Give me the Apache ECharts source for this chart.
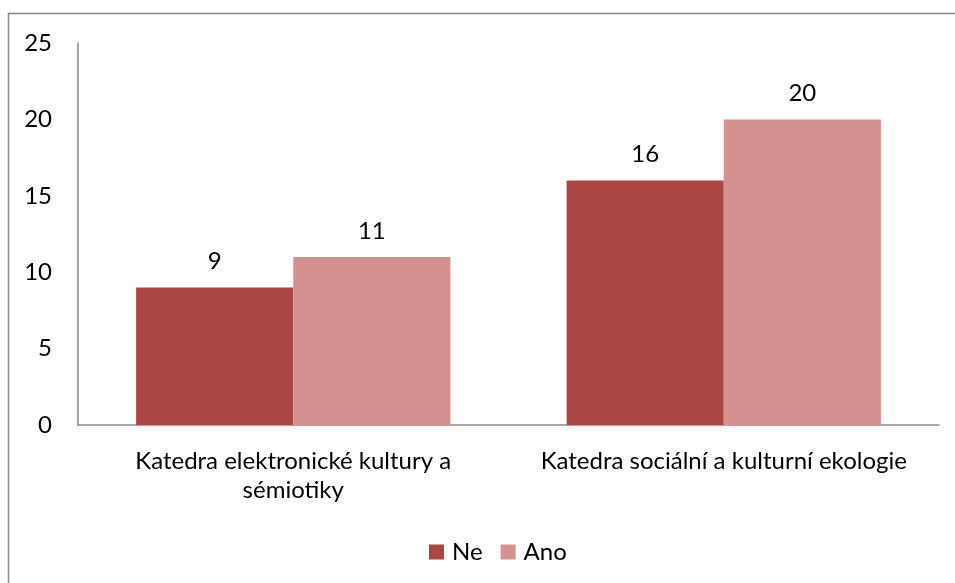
<!DOCTYPE html>
<html>
<head>
<meta charset="utf-8">
<script src="https://cdn.jsdelivr.net/npm/echarts@6/dist/echarts.min.js"></script>
<style>
  html, body { margin: 0; padding: 0; background: #fff; }
  #chart { width: 955px; height: 583px; }
</style>
</head>
<body>
<div id="chart"></div>
<script>
// Department names, shown as axis labels (first one wraps onto two lines)
const categories = ['Katedra elektronické kultury a\nsémiotiky', 'Katedra sociální a kulturní ekologie'];
const seriesNames = ['Ne', 'Ano'];
const valuesNe = [9, 16];
const valuesAno = [11, 20];
const yTicks = [0, 5, 10, 15, 20, 25];

const FONT = 'Lato';
const FS = 24;
const chart = echarts.init(document.getElementById('chart'));

chart.setOption({
  animation: false,
  textStyle: { fontFamily: FONT },
  graphic: [{
    type: 'rect',
    shape: { x: 8.5, y: 13.5, width: 1000, height: 1000 },
    style: { fill: 'none', stroke: '#868686', lineWidth: 1.5 },
    silent: true
  }],
  grid: { left: 78, right: 16, top: 43, bottom: 158 },
  legend: {
    data: seriesNames,
    top: 535,
    left: 424,
    itemWidth: 15,
    itemHeight: 15,
    itemGap: 18,
    icon: 'rect',
    textStyle: { fontFamily: FONT, fontSize: FS, color: '#000', padding: [0, 0, 0, 3] }
  },
  xAxis: {
    type: 'category',
    data: categories,
    axisLine: { lineStyle: { color: '#8c8c8c', width: 1.5 } },
    axisTick: { show: false },
    axisLabel: {
      interval: 0,
      color: '#000',
      fontFamily: FONT,
      fontSize: FS,
      lineHeight: 29,
      margin: 22
    }
  },
  yAxis: {
    type: 'value',
    min: yTicks[0],
    max: yTicks[yTicks.length - 1],
    interval: 5,
    axisLine: { show: true, lineStyle: { color: '#8c8c8c', width: 1.5 } },
    axisTick: { show: false },
    splitLine: { show: false },
    axisLabel: { color: '#000', fontFamily: FONT, fontSize: FS, margin: 26 }
  },
  series: [
    {
      name: seriesNames[0],
      type: 'bar',
      data: valuesNe,
      barCategoryGap: '27%',
      barGap: '0%',
      itemStyle: { color: '#AA4644' },
      label: { show: true, position: 'top', distance: 14, color: '#000', fontFamily: FONT, fontSize: FS }
    },
    {
      name: seriesNames[1],
      type: 'bar',
      data: valuesAno,
      barCategoryGap: '27%',
      barGap: '0%',
      itemStyle: { color: '#D39190' },
      label: { show: true, position: 'top', distance: 14, color: '#000', fontFamily: FONT, fontSize: FS }
    }
  ]
});
</script>
</body>
</html>
